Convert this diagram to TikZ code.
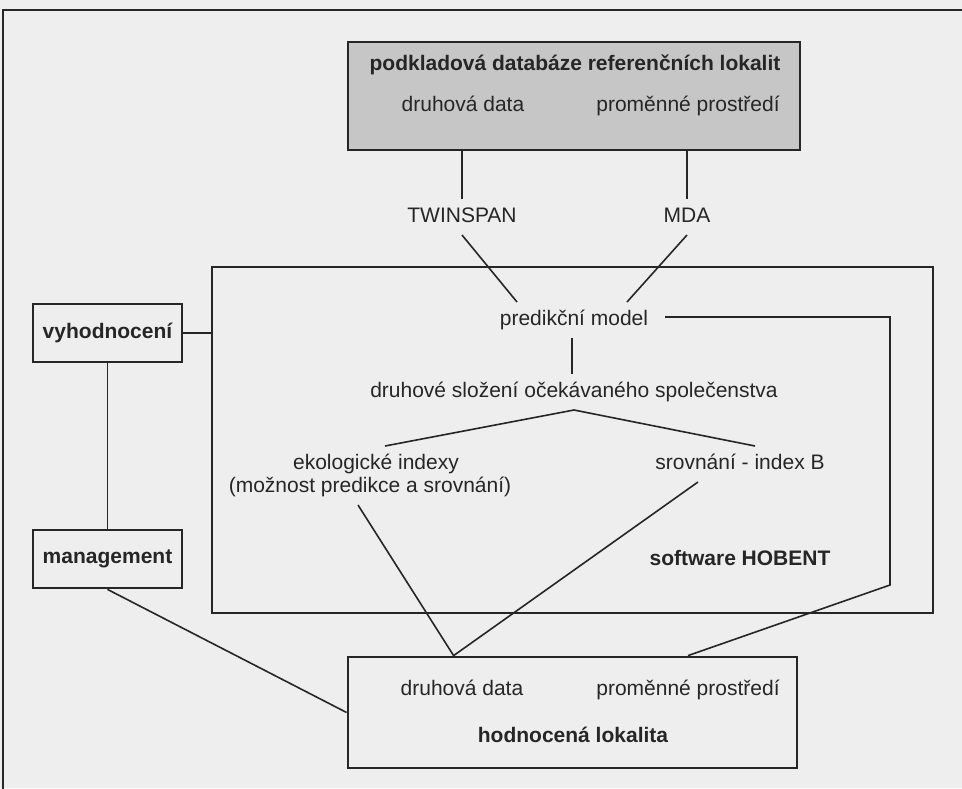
\documentclass[tikz,border=0pt]{standalone}
\usepackage{fontspec}
\setmainfont{Liberation Sans}
\usetikzlibrary{positioning}
\definecolor{ink}{HTML}{262626}
\definecolor{dbgrey}{HTML}{C6C6C6}
\definecolor{paper}{HTML}{EEEEEE}

\begin{document}
\begin{tikzpicture}[
    x=1pt, y=-1pt,
    every node/.style={font=\fontsize{21}{25}\selectfont, text=ink},
    bf/.style={font=\fontsize{21}{25}\selectfont\bfseries},
    frame/.style={draw=ink, line width=2.8pt},
    box/.style={draw=ink, line width=2.8pt, inner sep=0pt},
    lbl/.style={inner sep=0pt, outer sep=8pt, text height=15pt, text depth=5pt, anchor=base},
    conn/.style={draw=ink, line width=1.6pt}
  ]
    \useasboundingbox (0,0) rectangle (962,788);
    \fill[paper] (0,0) rectangle (962,788);
    \clip (0,0) rectangle (962,788);

    % outer frame, runs off the page right and below
    \draw[frame] (3,10) rectangle (1000,830);

    % reference database
    \node[box, fill=dbgrey, minimum width=452pt, minimum height=108pt] (refdb) at (574,96) {};
    \node[lbl, bf] (reftitle) at (575,70) {podkladová databáze referenčních lokalit};
    \node[lbl] (refspec) at (463,111) {druhová data};
    \node[lbl] (refenv) at (688,111) {proměnné prostředí};

    \node[lbl] (twinspan) at (462,222) {TWINSPAN};
    \node[lbl] (mda) at (687,222) {MDA};

    % software HOBENT block
    \node[box, minimum width=721pt, minimum height=346pt] (softbox) at (572.5,440) {};
    \node[lbl] (pred) at (574,325) {predikční model};
    \node[lbl] (comp) at (574,397) {druhové složení očekávaného společenstva};
    \node[lbl] (ecoidx) at (376,469) {ekologické indexy};
    \node[lbl] (econote) at (370,492) {(možnost predikce a srovnání)};
    \node[lbl] (bindex) at (740,469) {srovnání - index B};
    \node[lbl, bf] (hobent) at (740,565) {software HOBENT};
    \coordinate (hobturn) at (890,585);

    % left column
    \node[box, bf, minimum width=149pt, minimum height=58pt] (vyhod) at (107.5,333) {vyhodnocení};
    \node[box, bf, minimum width=149pt, minimum height=58pt] (mgmt) at (107.5,559) {management};

    % evaluated site
    \node[box, minimum width=449pt, minimum height=111pt] (evalbox) at (572.5,712.5) {};
    \node[lbl] (evalspec) at (462,695) {druhová data};
    \node[lbl] (evalenv) at (688,695) {proměnné prostředí};
    \node[lbl, bf] (evaltitle) at (573,742) {hodnocená lokalita};

    \draw[conn] (twinspan.north |- refdb.south) -- (twinspan.north);
    \draw[conn] (mda.north |- refdb.south) -- (mda.north);
    \draw[conn] (twinspan.south) -- ([xshift=-57pt]pred.north);
    \draw[conn] (mda.south) -- ([xshift=53pt]pred.north);
    \draw[conn] ([xshift=-2pt]pred.south) -- ([xshift=-2pt]comp.north);
    \draw[conn] (comp.south) -- ([xshift=9pt]ecoidx.north);
    \draw[conn] (comp.south) -- ([xshift=15pt]bindex.north);
    \draw[conn] ([xshift=-12pt]econote.south) -- ([xshift=107pt]evalbox.north west);
    \draw[conn] ([xshift=-42pt]bindex.south) -- ([xshift=107pt]evalbox.north west);
    \draw[conn] ([shift={(9pt,3pt)}]pred.east) -| (hobturn) -- (evalenv.north |- evalbox.north);

    \draw[conn] (vyhod.east) -- (vyhod.east -| softbox.west);
    \draw[conn] (vyhod.south) -- (mgmt.north);
    \draw[conn] (mgmt.south) -- (evalbox.west);
  \end{tikzpicture}
\end{document}
